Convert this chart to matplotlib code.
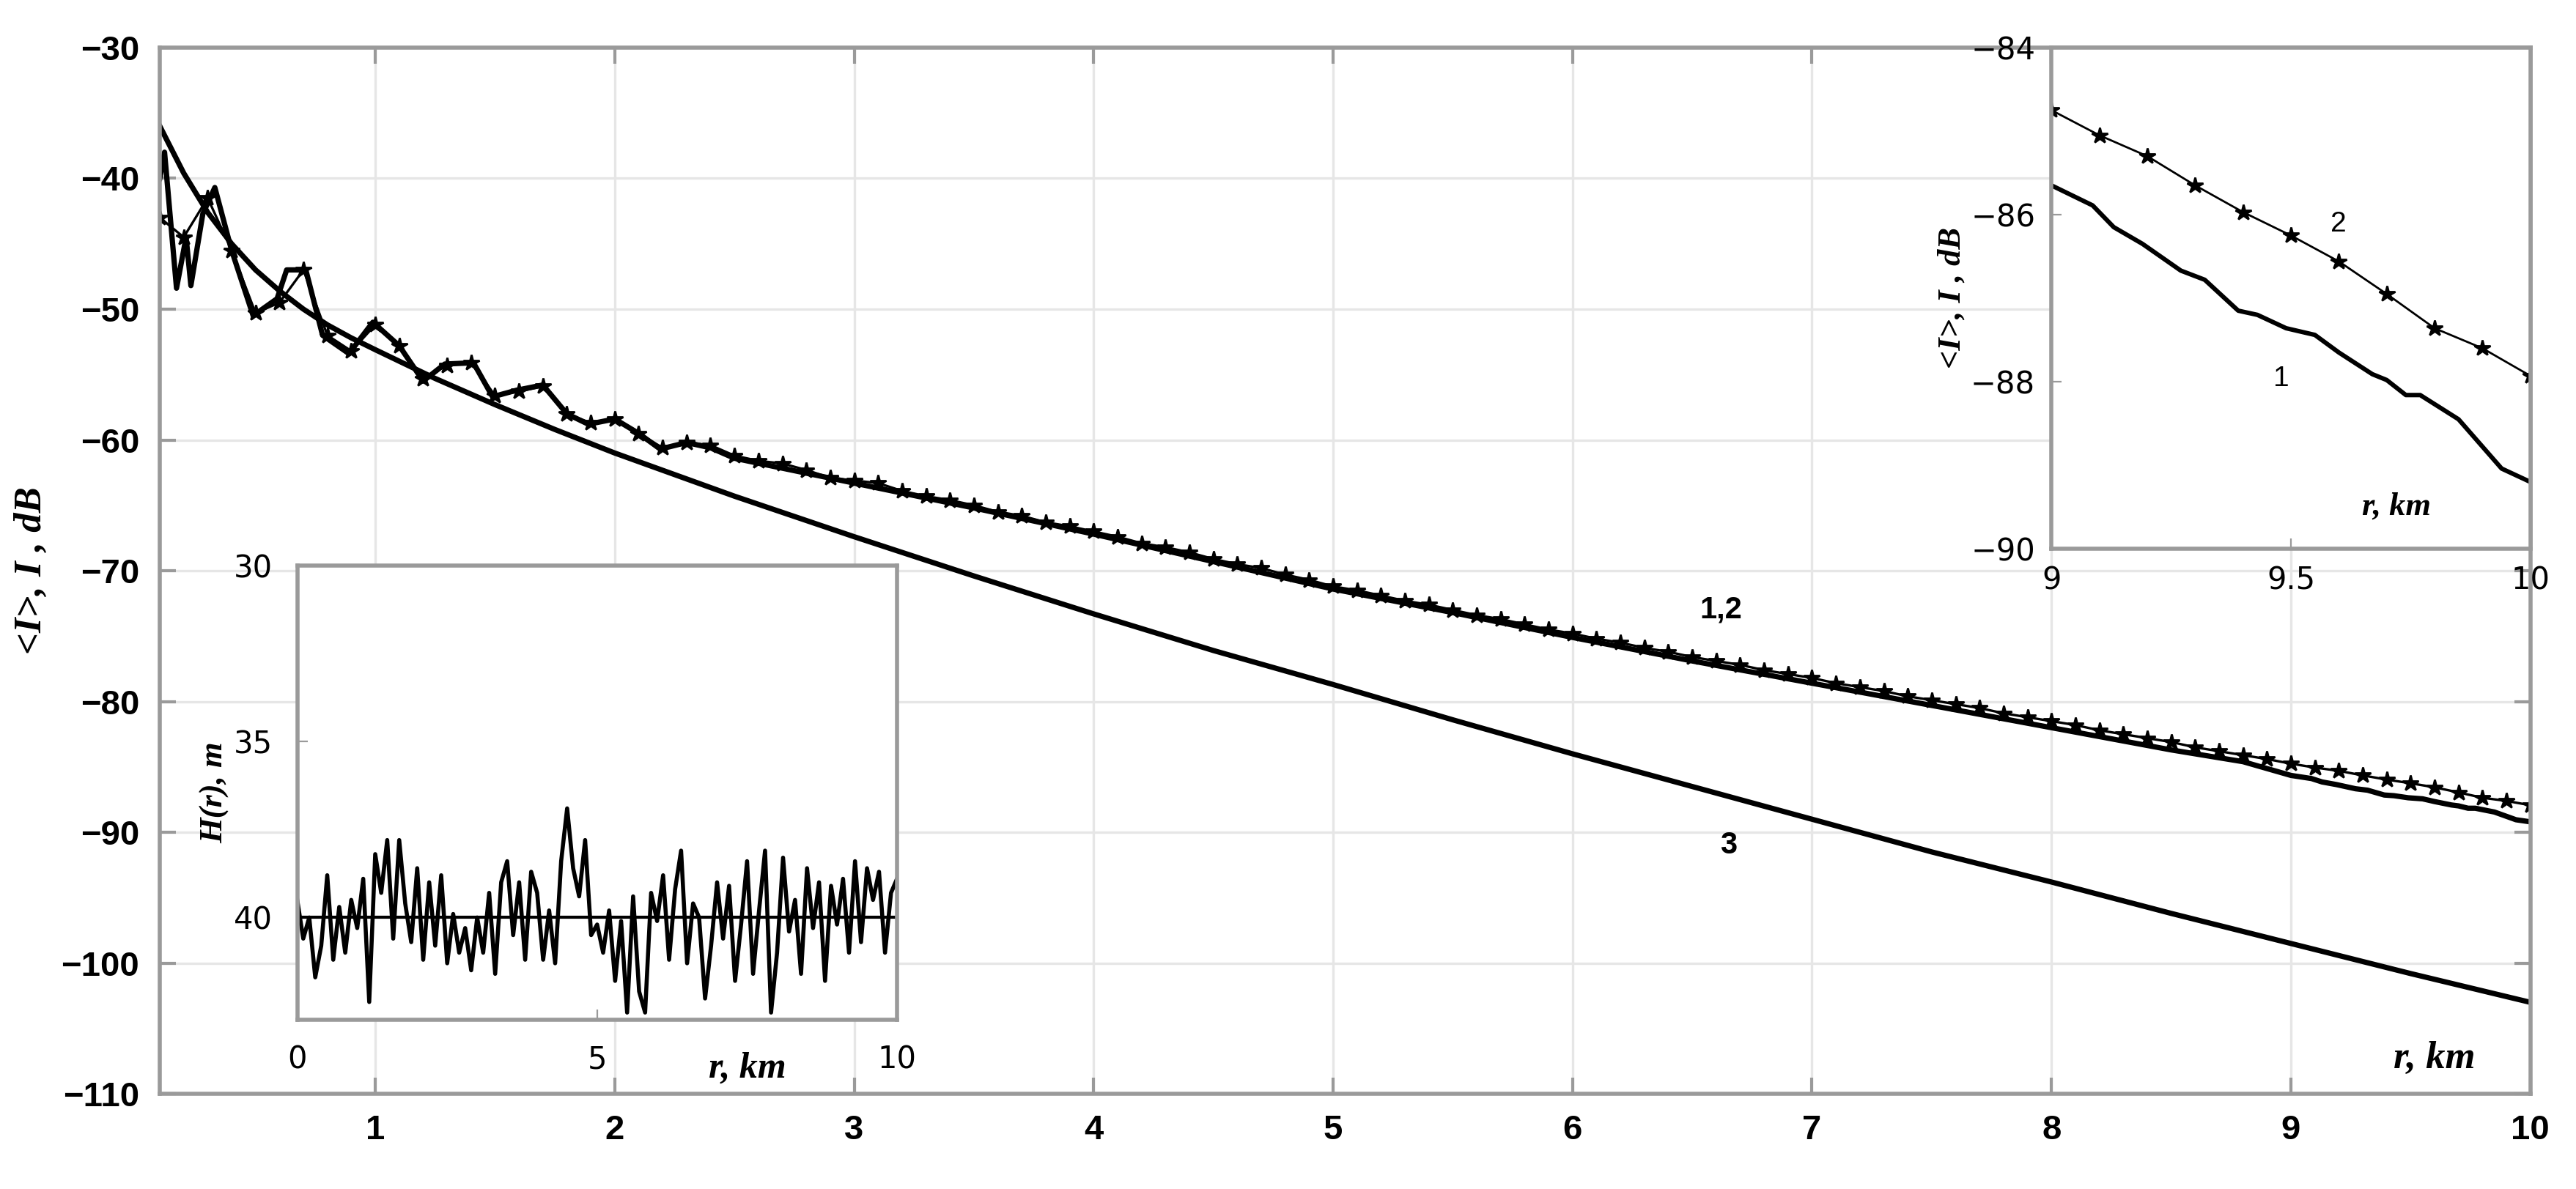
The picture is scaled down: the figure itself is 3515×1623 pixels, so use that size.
import matplotlib.pyplot as plt

# curve 2 (with stars), every 0.1 km
r2 = [round(0.1 * i, 1) for i in range(1, 101)]
I2 = [-43.0, -44.5, -41.5, -45.5, -50.3, -49.5, -47.0, -52.0, -53.2, -51.2,
      -52.8, -55.3, -54.3, -54.1, -56.6, -56.3, -55.9, -58.0, -58.7, -58.4,
      -59.5, -60.6, -60.2, -60.4, -61.2, -61.6, -61.8, -62.3, -62.9, -63.1,
      -63.3, -63.9, -64.3, -64.6, -65.0, -65.5, -65.8, -66.3, -66.6, -67.0,
      -67.4, -67.9, -68.2, -68.6, -69.1, -69.5, -69.8, -70.3, -70.7, -71.2,
      -71.5, -71.9, -72.3, -72.6, -73.0, -73.4, -73.7, -74.1, -74.5, -74.8,
      -75.2, -75.5, -75.9, -76.2, -76.6, -76.9, -77.2, -77.6, -77.9, -78.2,
      -78.6, -78.9, -79.2, -79.6, -79.9, -80.2, -80.5, -80.9, -81.2, -81.5,
      -81.8, -82.2, -82.5, -82.8, -83.1, -83.5, -83.8, -84.1, -84.4, -84.75,
      -85.05, -85.3, -85.65, -85.97, -86.25, -86.56, -86.95, -87.36, -87.6, -87.93]

# curve 1 (thick, no markers)
r1 = [0.1, 0.12, 0.17, 0.21, 0.23, 0.28, 0.33, 0.4, 0.49, 0.59, 0.63, 0.71, 0.78,
      0.89, 0.99, 1.1, 1.2, 1.29, 1.41, 1.49, 1.59, 1.7, 1.8, 1.89, 2.0, 2.1, 2.19,
      2.3, 2.4, 2.5, 3.0, 3.5, 4.0, 4.5, 5.0, 5.5, 6.0, 6.5, 7.0, 7.5, 8.0, 8.5, 8.8,
      9.0, 9.086, 9.13, 9.19, 9.27, 9.32, 9.39, 9.43, 9.49, 9.55, 9.6, 9.67, 9.7,
      9.74, 9.77, 9.85, 9.94, 10.0]
I1 = [-40.0, -38.0, -48.4, -44.5, -48.2, -42.7, -40.7, -45.5, -50.5, -49.2, -47.0,
      -47.0, -52.0, -53.4, -51.0, -52.8, -55.5, -54.2, -54.1, -56.7, -56.2, -55.8,
      -58.0, -58.8, -58.4, -59.5, -60.7, -60.2, -60.6, -61.4, -63.3, -65.2, -67.2,
      -69.3, -71.4, -73.2, -75.1, -76.9, -78.6, -80.3, -82.0, -83.7, -84.6,
      -85.65, -85.89, -86.15, -86.35, -86.67, -86.78, -87.15, -87.2, -87.36, -87.44,
      -87.65, -87.91, -87.98, -88.16, -88.16, -88.45, -89.04, -89.2]

# curve 3
r3 = [0.1, 0.2, 0.3, 0.4, 0.5, 0.6, 0.7, 0.8, 0.9, 1.0, 1.25, 1.5, 1.75, 2.0, 2.5,
      3.0, 3.5, 4.0, 4.5, 5.0, 5.5, 6.0, 6.5, 7.0, 7.5, 8.0, 8.5, 9.0, 9.5, 10.0]
I3 = [-36.0, -39.6, -42.6, -45.0, -47.0, -48.6, -50.0, -51.2, -52.2, -53.1, -55.3,
      -57.3, -59.2, -61.0, -64.3, -67.4, -70.4, -73.3, -76.1, -78.7, -81.4, -84.0,
      -86.5, -89.0, -91.5, -93.8, -96.2, -98.5, -100.8, -103.0]

# relief H(r)
rh = [round(0.1 * i, 1) for i in range(0, 101)]
H = [39.5, 40.6, 40.0, 41.7, 40.8, 38.8, 41.2, 39.7, 41.0, 39.5,
     40.3, 38.9, 42.4, 38.2, 39.3, 37.8, 40.6, 37.8, 39.6, 40.7,
     38.6, 41.2, 39.0, 40.8, 38.8, 41.3, 39.9, 41.0, 40.3, 41.5,
     40.0, 41.0, 39.3, 41.6, 39.0, 38.4, 40.5, 39.0, 41.2, 38.7,
     39.3, 41.2, 39.8, 41.3, 38.4, 36.9, 38.6, 39.4, 37.8, 40.5,
     40.2, 41.0, 39.8, 41.8, 40.1, 42.7, 39.4, 42.1, 42.7, 39.3,
     40.1, 38.8, 41.2, 39.2, 38.1, 41.3, 39.6, 40.0, 42.3, 40.8,
     39.0, 40.6, 39.1, 41.8, 40.2, 38.4, 41.6, 39.8, 38.1, 42.7,
     41.0, 38.3, 40.4, 39.5, 41.6, 38.6, 40.3, 39.0, 41.8, 39.1,
     40.2, 38.9, 41.0, 38.4, 40.7, 38.6, 39.5, 38.7, 41.0, 39.3, 38.9]

spine_c = '#9a9a9a'
grid_c = '#e6e6e6'
serif_bi = dict(family='Liberation Serif', weight='bold', style='italic')

fig = plt.figure(figsize=(17.58, 8.115), dpi=200)
ax = fig.add_axes([0.062, 0.08, 0.92, 0.88])
ax.plot(r3, I3, color='black', lw=2.6)
ax.plot(r1, I1, color='black', lw=2.6)
ax.plot(r2, I2, color='black', lw=1.2, marker='*', ms=8)
ax.set_xlim(0.1, 10)
ax.set_ylim(-110, -30)
ax.set_xticks(range(1, 11))
ax.set_yticks(range(-110, -29, 10))
ax.grid(True, color=grid_c, lw=1.2)
for s in ax.spines.values():
    s.set_color(spine_c)
    s.set_linewidth(2)
ax.tick_params(direction='in', length=8, color=spine_c, width=1.5, labelsize=17, pad=10,
               top=True, right=True)
for t in ax.get_xticklabels() + ax.get_yticklabels():
    t.set_family('Liberation Sans')
    t.set_fontweight('bold')
ax.set_ylabel('<I>, I , dB', fontsize=19, labelpad=6, **serif_bi)
ax.text(9.6, -107.3, 'r, km', fontsize=19, ha='center', va='center', **serif_bi)
ax.text(6.62, -73.6, '1,2', fontsize=15, fontweight='bold', ha='center', family='Liberation Sans')
ax.text(6.65, -91.6, '3', fontsize=15, fontweight='bold', ha='center', family='Liberation Sans')

# inset: relief
ins = ax.inset_axes([0.058, 0.071, 0.253, 0.434])
ins.plot(rh, H, color='black', lw=2.0)
ins.axhline(40, color='black', lw=1.5)
ins.set_xlim(0, 10)
ins.set_ylim(42.9, 30)
ins.set_xticks([0, 5, 10])
ins.set_yticks([30, 35, 40])
ins.set_facecolor('white')
for s in ins.spines.values():
    s.set_color(spine_c)
    s.set_linewidth(2)
ins.tick_params(direction='in', length=5, color=spine_c, labelsize=15, pad=12)
ins.set_ylabel('H(r), m', fontsize=16, labelpad=2, **serif_bi)
ins.text(7.5, 44.3, 'r, km', fontsize=18, ha='center', va='center', **serif_bi)

# inset: end of path
ins2 = ax.inset_axes([0.798, 0.521, 0.202, 0.479])
ins2.plot(r1, I1, color='black', lw=2.2)
ins2.plot(r2, I2, color='black', lw=1.0, marker='*', ms=8)
ins2.set_xlim(9, 10)
ins2.set_ylim(-90, -84)
ins2.set_xticks([9, 9.5, 10])
ins2.set_xticklabels(['9', '9.5', '10'])
ins2.set_yticks([-90, -88, -86, -84])
ins2.set_facecolor('white')
for s in ins2.spines.values():
    s.set_color(spine_c)
    s.set_linewidth(2)
ins2.tick_params(direction='in', length=5, color=spine_c, labelsize=15, pad=8)
ins2.set_ylabel('<I>, I , dB', fontsize=16, labelpad=2, **serif_bi)
ins2.text(9.72, -89.5, 'r, km', fontsize=16, ha='center', va='center', **serif_bi)
ins2.text(9.48, -88.05, '1', fontsize=14, ha='center', family='Liberation Sans')
ins2.text(9.6, -86.2, '2', fontsize=14, ha='center', family='Liberation Sans')

fig.savefig('out.png', dpi=200)
